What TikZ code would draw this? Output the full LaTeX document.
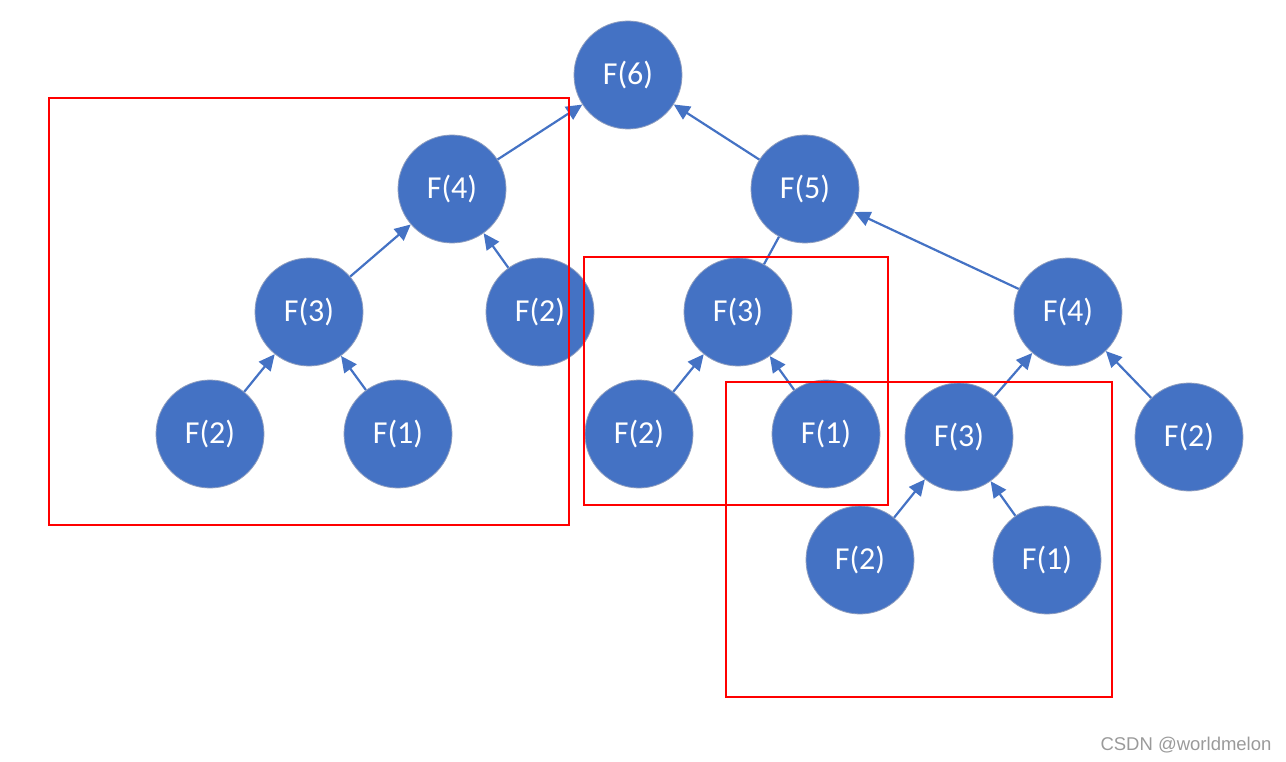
\documentclass[tikz,border=0pt]{standalone}
\usepackage{fontspec}
\setmainfont{Carlito}
\newfontfamily\wmfont{Liberation Sans}
\usetikzlibrary{arrows.meta}
\definecolor{nodeblue}{HTML}{4472C4}
\definecolor{nodeedge}{HTML}{8E9DBE}
\definecolor{boxred}{HTML}{FF0000}
\definecolor{wmgray}{HTML}{9A9A9A}
\begin{document}
\begin{tikzpicture}[x=1pt,y=-1pt,
  fnode/.style={circle,fill=nodeblue,draw=nodeedge,line width=0.8pt,minimum size=108pt,inner sep=0pt,text=white,font=\fontsize{32}{36}\selectfont},
  link/.style={draw=nodeblue,line width=2.2pt},
  arr/.style={link,-{Triangle[length=16pt,width=15pt]}},
  redbox/.style={draw=boxred,line width=1.3pt}]
\useasboundingbox (0,0) rectangle (1286,762);
\node[fnode] (f6) at (628,75) {F(6)};
\node[fnode] (f4a) at (452,189) {F(4)};
\node[fnode] (f5) at (805,189) {F(5)};
\node[fnode] (f3a) at (309,312) {F(3)};
\node[fnode] (f2a) at (540,312) {F(2)};
\node[fnode] (f3b) at (738,312) {F(3)};
\node[fnode] (f4b) at (1068,312) {F(4)};
\node[fnode] (f2b) at (210,434) {F(2)};
\node[fnode] (f1a) at (398,434) {F(1)};
\node[fnode] (f2c) at (639,434) {F(2)};
\node[fnode] (f1b) at (826,434) {F(1)};
\node[fnode] (f3c) at (959,437) {F(3)};
\node[fnode] (f2d) at (1189,437) {F(2)};
\node[fnode] (f2e) at (860,560) {F(2)};
\node[fnode] (f1c) at (1047,560) {F(1)};
\draw[arr] (f4a) -- (f6);
\draw[arr] (f5) -- (f6);
\draw[arr] (f3a) -- (f4a);
\draw[arr] (f2a) -- (f4a);
\draw[arr] (f2b) -- (f3a);
\draw[arr] (f1a) -- (f3a);
\draw[link] (f5) -- (f3b);
\draw[arr] (f4b) -- (f5);
\draw[arr] (f2c) -- (f3b);
\draw[arr] (f1b) -- (f3b);
\draw[arr] (f3c) -- (f4b);
\draw[arr] (f2d) -- (f4b);
\draw[arr] (f2e) -- (f3c);
\draw[arr] (f1c) -- (f3c);
\node[redbox,minimum width=520pt,minimum height=427pt,inner sep=0pt] (box1) at (309,311.5) {};
\node[redbox,minimum width=304pt,minimum height=248pt,inner sep=0pt] (box2) at (736,381) {};
\node[redbox,minimum width=386pt,minimum height=315pt,inner sep=0pt] (box3) at (919,539.5) {};
\node[text=wmgray,font=\wmfont\fontsize{18.5}{21}\selectfont,inner sep=0pt] (wm) at (1186,745) {CSDN @worldmelon};
\end{tikzpicture}
\end{document}
